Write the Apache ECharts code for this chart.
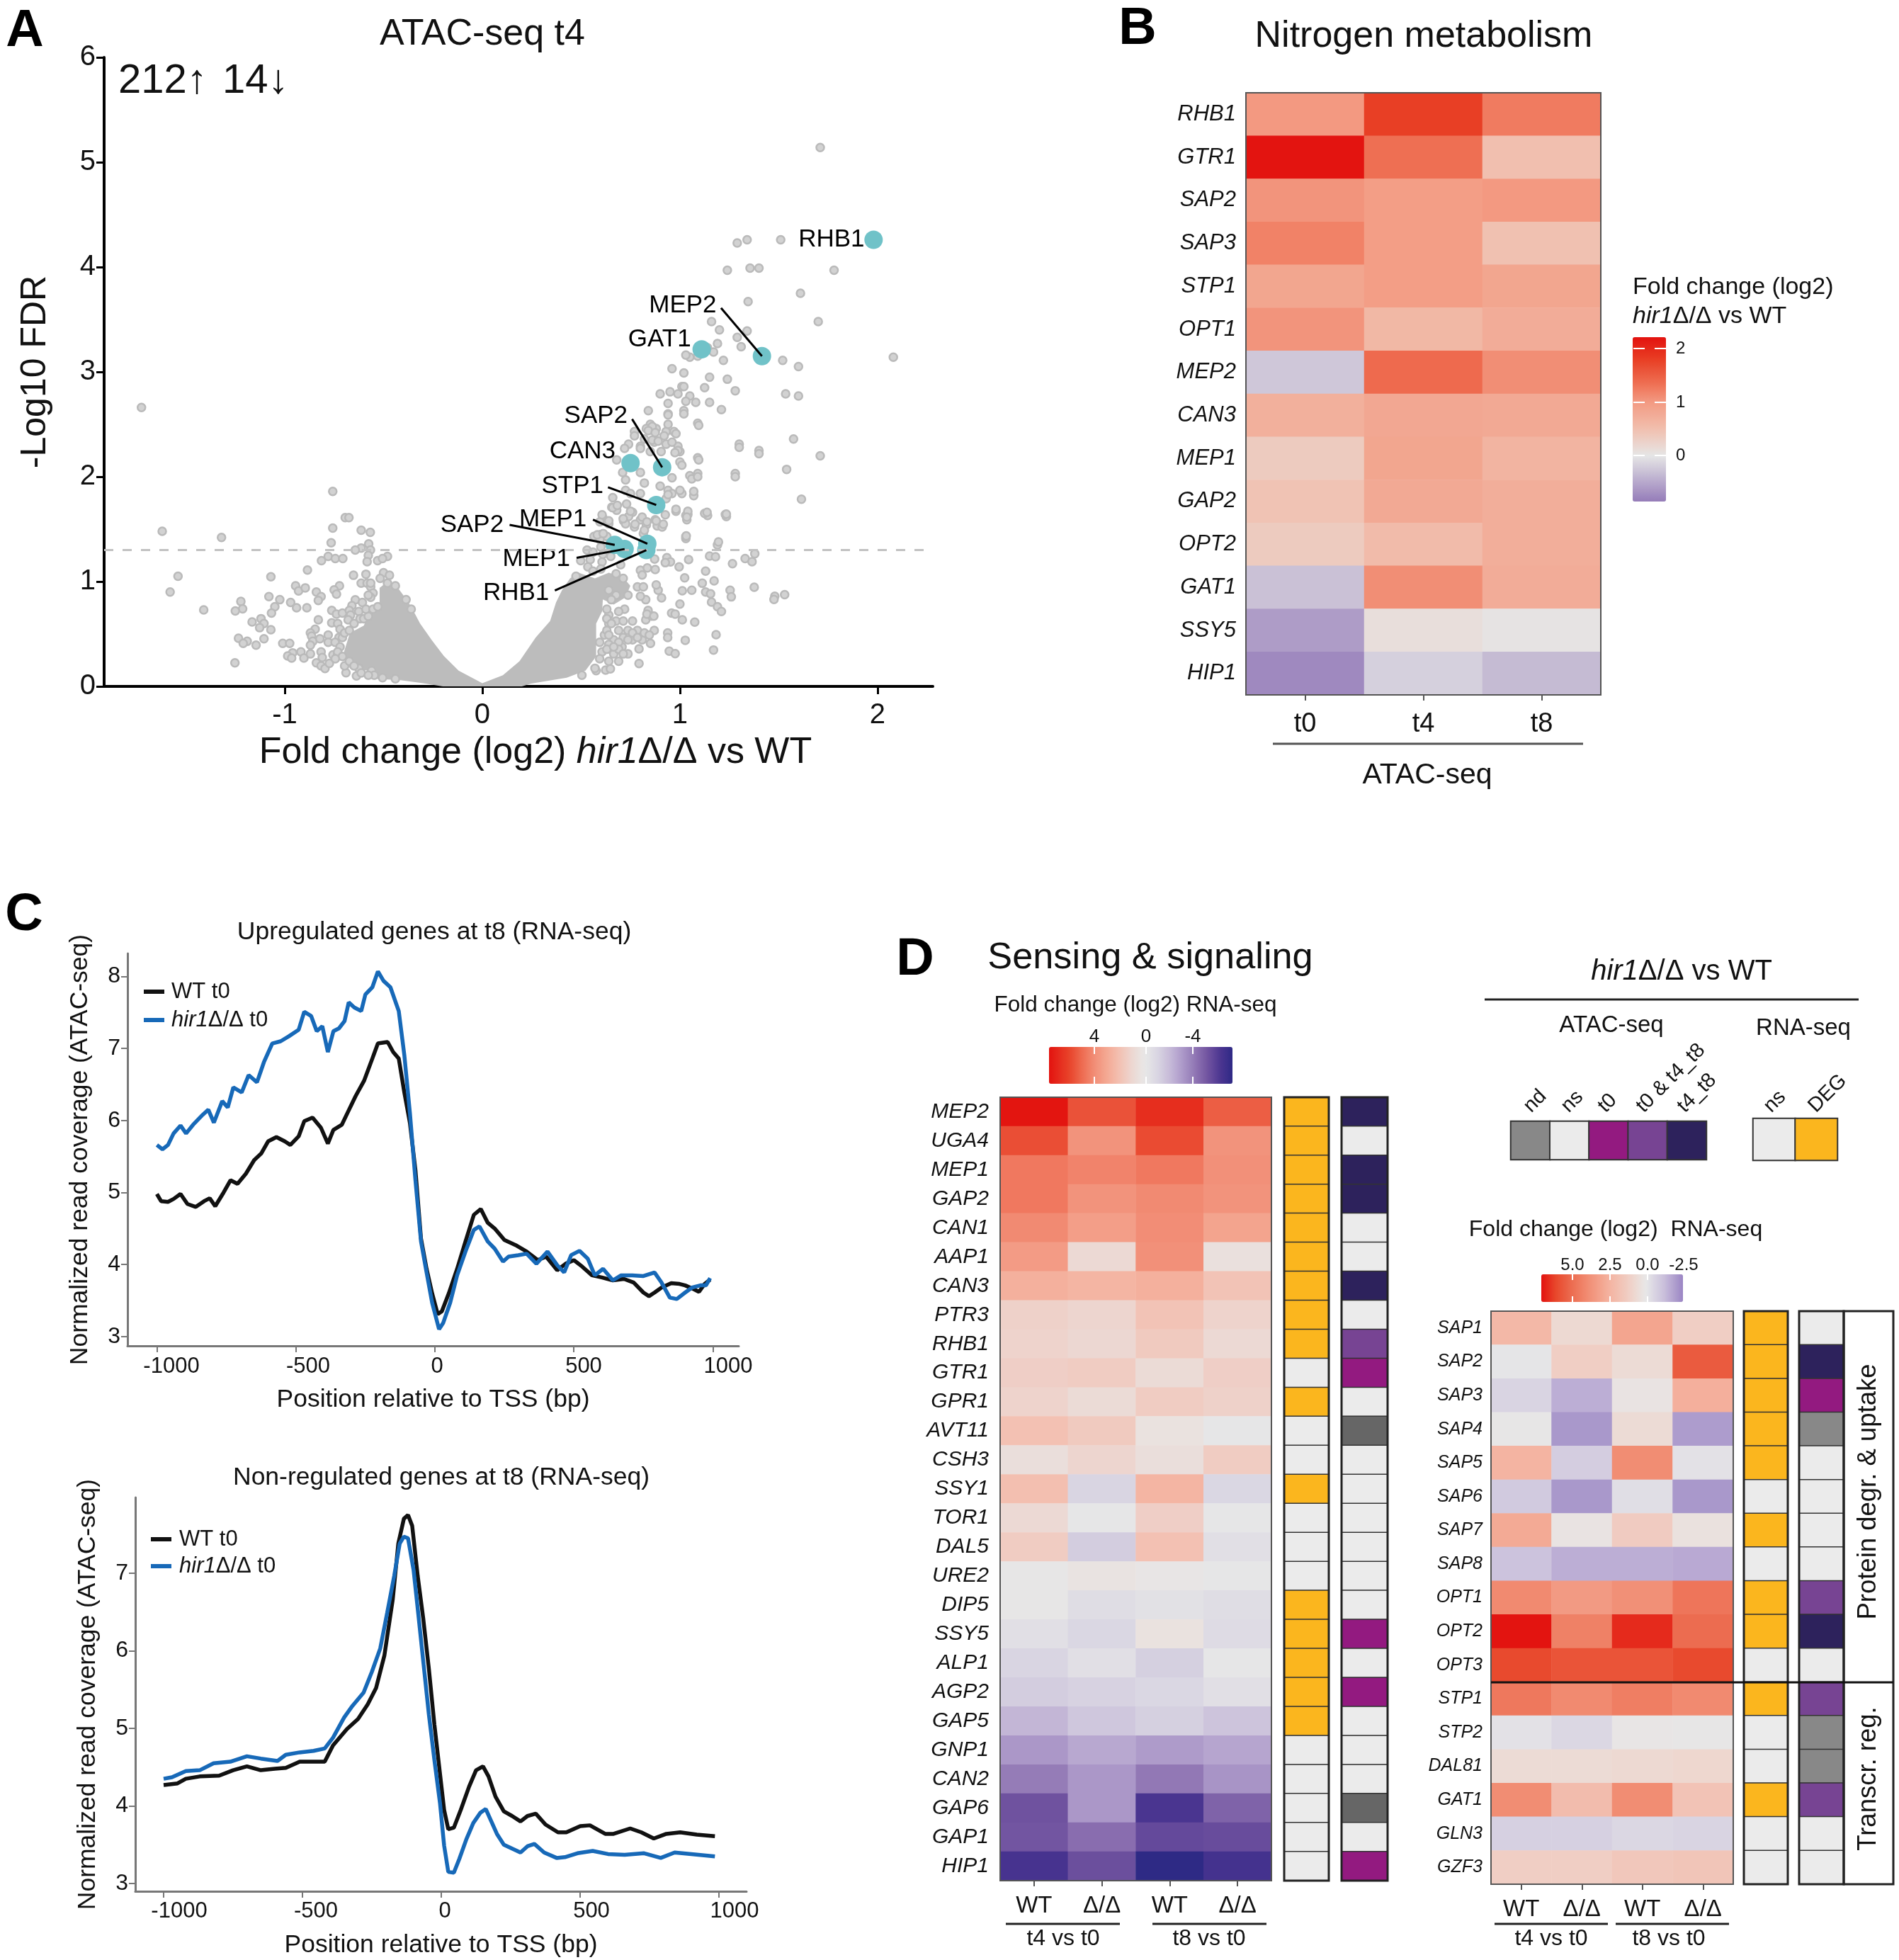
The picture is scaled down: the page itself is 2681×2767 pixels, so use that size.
<!DOCTYPE html>
<html><head><meta charset="utf-8">
<style>html,body{margin:0;padding:0;background:#fff}#c{width:2681px;height:2767px}</style>
<script src="https://cdn.jsdelivr.net/npm/echarts@6/dist/echarts.min.js"></script>
</head><body><div id="c"></div>
<script>
// ---------- Panel A data ----------
const fdrThreshold = 1.3;
const volcanoMassRight = [[0,0.03],[0.104,0.106],[0.188,0.24],[0.27,0.466],[0.343,0.624],[0.373,0.8],[0.403,0.917],[0.444,1.03],[0.487,1.085],[0.57,1.03],[0.64,1.085],[0.713,1.04],[0.749,0.96],[0.725,0.85],[0.665,0.78],[0.61,0.83],[0.606,0.714],[0.576,0.6],[0.576,0.286],[0.522,0.15],[0.427,0.083],[0.247,0.027],[0.2,0],[0,0]];
const volcanoMassLeft = [[0,0.03],[-0.12,0.15],[-0.195,0.29],[-0.255,0.44],[-0.315,0.6],[-0.36,0.76],[-0.4,0.87],[-0.435,0.96],[-0.48,1.0],[-0.52,0.94],[-0.52,0.8],[-0.575,0.69],[-0.6,0.58],[-0.67,0.51],[-0.7,0.33],[-0.67,0.17],[-0.58,0.15],[-0.53,0.07],[-0.42,0.06],[-0.3,0.03],[-0.2,0],[0,0]];
const volcanoUpper = [[1.71,5.14],[1.29,4.23],[1.34,4.26],[1.51,4.26],[1.78,3.97],[1.24,3.97],[1.355,3.99],[1.4,3.99],[1.61,3.75],[1.345,3.67],[1.7,3.48],[1.16,3.48],[1.2,3.4],[1.34,3.39],[1.29,3.33],[2.08,3.14],[1.52,3.11],[1.6,3.05],[1.14,3.23],[1.19,3.27],[1.31,3.24],[1.17,3.19],[1.22,3.11],[1.05,3.14],[1.03,3.16],[1.09,3.15],[0.96,3.03],[1.02,2.99],[1.15,2.95],[1.24,2.93],[1.28,2.82],[1.535,2.79],[1.6,2.77],[0.9,2.79],[0.95,2.81],[1.01,2.86],[1.02,2.86],[0.99,2.79],[1.05,2.77],[1.125,2.85],[1.03,2.72],[1.08,2.71],[1.15,2.71],[0.94,2.7],[1.02,2.63],[1.21,2.64],[0.84,2.63],[1.09,2.51],[0.94,2.6],[0.85,2.5],[0.83,2.46],[0.88,2.46],[0.93,2.43],[0.97,2.43],[0.77,2.43],[0.82,2.36],[0.87,2.33],[0.93,2.31],[0.8,2.29],[0.74,2.31],[0.99,2.29],[1.0,2.24],[0.85,2.24],[1.575,2.36],[1.3,2.31],[1.4,2.25],[1.71,2.2],[1.09,2.18],[1.0,2.14],[1.54,2.07],[1.28,2.03],[1.09,2.03],[1.05,2.01],[0.96,1.99],[0.68,2.16],[0.8,2.04]];
const volcanoMid = [[0.94,2.59],[1.02,2.6],[1.095,2.49],[0.86,2.48],[0.94,2.5],[0.84,2.44],[0.77,2.39],[0.875,2.42],[0.92,2.39],[0.98,2.41],[0.86,2.35],[0.89,2.34],[0.96,2.33],[0.72,2.27],[0.8,2.27],[0.905,2.24],[0.99,2.25],[0.975,2.23],[1.095,2.16],[1.01,2.11],[0.71,2.04],[0.725,1.97],[0.82,1.94],[0.9,1.91],[1.06,1.98],[1.09,2.0],[1.28,2.0],[1.3,2.28],[1.4,2.22],[0.725,1.87],[0.75,1.84],[0.8,1.84],[0.94,1.87],[0.96,1.84],[1.01,1.84],[1.07,1.82],[0.66,1.8],[0.73,1.74],[0.93,1.79],[0.655,1.71],[0.68,1.68],[0.76,1.66],[0.74,1.62],[0.715,1.58],[0.725,1.55],[0.61,1.61],[0.595,1.57],[0.64,1.55],[0.8,1.59],[0.83,1.54],[0.77,1.52],[0.875,1.59],[0.885,1.53],[0.91,1.52],[0.98,1.67],[1.04,1.64],[1.035,1.59],[1.14,1.63],[1.235,1.62],[0.815,1.46],[0.6,1.45],[0.565,1.43],[0.63,1.43],[1.03,1.41],[1.19,1.35],[0.595,1.4],[1.615,1.785],[1.0,1.87],[1.07,1.86],[0.94,1.83],[1.125,1.65],[1.23,1.64],[1.03,1.63],[1.03,1.43]];
const volcanoLower = [[0.64,0.68],[0.677,0.624],[0.72,0.736],[0.713,0.624],[0.76,0.624],[0.785,0.534],[0.737,0.534],[0.69,0.534],[0.64,0.6],[0.618,0.49],[0.665,0.444],[0.713,0.466],[0.76,0.444],[0.809,0.444],[0.851,0.41],[0.87,0.534],[0.64,0.4],[0.707,0.376],[0.737,0.31],[0.665,0.31],[0.606,0.33],[0.69,0.24],[0.624,0.155],[0.648,0.167],[0.504,0.106],[0.576,0.15],[0.793,0.358],[0.793,0.218],[0.946,0.336],[0.976,0.313],[1.17,0.347],[1.027,0.44],[1.183,0.493],[0.938,0.51],[0.938,0.466],[1.075,0.613],[1.012,0.635],[0.958,0.7],[0.976,0.69],[1.0,0.786],[0.827,0.635],[0.857,0.67],[0.839,0.725],[0.827,0.827],[0.8,0.86],[0.907,0.845],[0.89,0.917],[0.88,0.968],[0.785,0.95],[0.815,0.95],[1.012,0.912],[1.06,0.917],[1.13,0.9],[1.155,0.883],[1.16,0.804],[1.19,0.76],[1.21,0.714],[1.254,0.917],[1.26,0.854],[1.376,0.946],[1.113,0.984],[1.173,1.007],[1.024,1.036],[1.13,1.1],[0.8,1.108],[0.875,1.115],[0.809,1.063],[0.835,1.13],[0.996,1.14],[1.266,1.17],[1.33,1.22],[1.365,1.19],[1.15,1.243],[1.18,1.236],[1.379,1.266],[0.934,1.228],[0.952,1.187],[0.926,1.18],[1.044,1.21],[0.872,1.214],[1.195,1.378],[1.032,1.435],[0.546,1.21],[0.498,1.2],[0.534,1.14],[0.606,1.187],[0.474,1.05],[0.677,1.074],[0.713,1.03],[0.582,1.446],[0.612,1.457],[0.606,1.637],[0.64,1.58],[0.66,1.705],[0.683,1.727],[0.713,1.6],[0.75,1.67],[0.809,1.615],[0.833,1.57],[0.773,1.547],[0.916,1.547],[0.88,1.58],[0.98,1.69],[1.04,1.67],[1.035,1.615],[1.137,1.66],[1.235,1.644],[0.926,1.637],[0.82,1.49],[1.48,0.86],[1.53,0.875],[1.476,0.83],[0.53,1.3],[0.56,1.28],[0.61,1.26],[0.65,1.24],[0.6,1.33],[0.56,1.1],[0.6,1.12],[0.7,1.16],[0.64,0.917],[0.677,0.87],[0.653,0.827],[0.737,0.87],[0.63,0.737],[0.69,0.714],[0.63,0.646],[0.653,0.6],[0.63,0.534],[0.64,0.49],[0.69,0.42],[0.737,0.444],[0.82,0.51],[0.845,0.49],[0.594,0.42],[0.63,0.354],[0.69,0.354],[0.713,0.31],[0.594,0.264],[0.64,0.24],[0.57,0.173],[0.665,0.376],[0.76,0.51],[0.785,0.466],[0.833,0.69],[0.868,0.67]];
const volcanoLeft = [[-1.725,2.66],[-1.62,1.48],[-1.54,1.05],[-1.58,0.9],[-0.757,1.86],[-0.694,1.61],[-0.675,1.61],[-0.757,1.51],[-0.613,1.49],[-0.567,1.47],[-0.765,1.37],[-1.32,1.42],[-0.575,1.36],[-0.613,1.32],[-0.643,1.3],[-0.566,1.3],[-0.78,1.24],[-0.814,1.2],[-0.744,1.22],[-0.706,1.22],[-0.577,1.25],[-0.583,1.19],[-0.53,1.2],[-0.48,1.24],[-0.505,1.22],[-0.885,1.11],[-0.652,1.06],[-0.589,1.07],[-0.5,1.085],[-0.47,1.06],[-1.07,1.045],[-0.613,0.985],[-0.583,0.985],[-0.565,0.95],[-0.553,0.89],[-0.565,0.85],[-0.945,0.96],[-0.93,0.91],[-0.896,0.94],[-0.84,0.9],[-0.723,0.96],[-0.75,0.92],[-0.738,0.88],[-0.816,0.856],[-0.83,0.82],[-1.08,0.856],[-1.025,0.827],[-1.222,0.81],[-1.213,0.74],[-1.25,0.72],[-1.41,0.73],[-0.97,0.8],[-1.05,0.76],[-1.067,0.7],[-0.94,0.75],[-0.888,0.75],[-0.643,0.826],[-0.607,0.8],[-0.66,0.77],[-0.762,0.725],[-0.738,0.69],[-0.708,0.7],[-0.673,0.725],[-0.625,0.714],[-0.667,0.68],[-0.679,0.635],[-0.619,0.646],[-1.12,0.646],[-1.165,0.615],[-1.105,0.6],[-1.127,0.56],[-1.07,0.54],[-0.83,0.635],[-0.762,0.606],[-0.732,0.6],[-0.72,0.545],[-0.846,0.545],[-0.87,0.51],[-0.864,0.48],[-0.78,0.49],[-1.234,0.46],[-1.19,0.43],[-1.21,0.41],[-1.105,0.455],[-1.145,0.394],[-1.01,0.41],[-0.975,0.41],[-0.858,0.43],[-0.87,0.394],[-0.822,0.455],[-0.726,0.466],[-0.78,0.42],[-0.745,0.42],[-0.918,0.33],[-0.96,0.32],[-0.985,0.29],[-0.965,0.27],[-0.903,0.27],[-0.87,0.31],[-0.816,0.33],[-0.81,0.275],[-1.252,0.225],[-0.756,0.3],[-0.732,0.31],[-0.84,0.225],[-0.816,0.196],[-0.796,0.17],[-0.774,0.22],[-0.69,0.13],[-0.637,0.1],[-0.697,0.196],[-0.625,0.173],[-0.56,0.15],[-0.505,0.083],[-0.44,0.072],[-0.36,0.737],[-0.44,0.96],[-0.386,0.827],[-0.48,0.985],[-0.547,0.106],[-0.708,0.466],[-0.697,0.51],[-0.673,0.534],[-0.72,0.376],[-0.732,0.33],[-0.708,0.286],[-0.744,0.264],[-0.673,0.24],[-0.649,0.196],[-0.613,0.128],[-0.577,0.106],[-0.6,0.646],[-0.577,0.669],[-0.589,0.736],[-0.649,0.6],[-0.553,0.736],[-0.529,0.76],[-0.565,0.985],[-0.517,1.03],[-0.577,0.87]];
const volcanoGeneNames = ['RHB1','MEP2','GAT1','SAP2','CAN3','STP1','MEP1','SAP2','MEP1','RHB1'];
const volcanoGenePoints = [[1.98,4.26],[1.415,3.15],[1.11,3.215],[0.91,2.09],[0.75,2.13],[0.88,1.73],[0.835,1.36],[0.67,1.35],[0.72,1.31],[0.83,1.30]];
const volcanoLabelAnchors = [[1.936,4.26],[1.187,3.63],[1.058,3.31],[0.737,2.58],[0.676,2.24],[0.615,1.91],[0.53,1.59],[0.11,1.54],[0.446,1.216],[0.34,0.89]];
const volcanoLeaderStarts = [null,[1.208,3.61],null,[0.758,2.55],null,[0.636,1.9],[0.56,1.59],[0.138,1.54],[0.477,1.226],[0.367,0.915]];
const volcanoXTicks = [-1,0,1,2];
const volcanoYTicks = [0,1,2,3,4,5,6];

// ---------- Panel B data ----------
const nitroGenes = ['RHB1','GTR1','SAP2','SAP3','STP1','OPT1','MEP2','CAN3','MEP1','GAP2','OPT2','GAT1','SSY5','HIP1'];
const nitroTimes = ['t0','t4','t8'];
const nitroT0 = [1.0,2.2,1.05,1.2,0.85,1.05,-0.25,0.7,0.35,0.45,0.35,-0.3,-0.6,-0.75];
const nitroT4 = [1.8,1.35,0.95,0.95,0.95,0.6,1.4,0.82,0.85,0.8,0.55,1.1,0.1,-0.18];
const nitroT8 = [1.25,0.5,1.0,0.48,0.85,0.75,1.1,0.8,0.65,0.72,0.72,0.75,0.03,-0.35];

// ---------- Panel C data ----------
const upWT = [[-1000,4.98],[-985,4.88],[-960,4.87],[-940,4.91],[-915,4.98],[-890,4.84],[-860,4.8],[-830,4.88],[-810,4.92],[-790,4.81],[-760,5.0],[-735,5.17],[-710,5.12],[-680,5.26],[-650,5.45],[-625,5.54],[-600,5.71],[-570,5.77],[-540,5.71],[-520,5.66],[-490,5.78],[-470,5.99],[-440,6.04],[-410,5.9],[-385,5.68],[-365,5.87],[-335,5.94],[-315,6.1],[-285,6.34],[-255,6.55],[-225,6.86],[-205,7.07],[-170,7.09],[-150,6.95],[-130,6.86],[-110,6.39],[-90,5.97],[-70,5.31],[-50,4.36],[-30,3.94],[-10,3.6],[10,3.31],[25,3.35],[50,3.6],[80,3.94],[110,4.32],[140,4.69],[165,4.77],[190,4.58],[215,4.5],[250,4.34],[290,4.27],[330,4.18],[370,4.06],[400,4.11],[440,3.92],[470,4.01],[500,4.06],[530,3.97],[565,3.85],[600,3.82],[640,3.78],[680,3.8],[715,3.75],[750,3.61],[770,3.56],[790,3.61],[815,3.68],[850,3.74],[880,3.73],[900,3.71],[930,3.66],[950,3.62],[970,3.73],[990,3.79]];
const upHir1 = [[-1000,5.66],[-980,5.6],[-960,5.66],[-940,5.82],[-915,5.93],[-895,5.82],[-870,5.94],[-835,6.08],[-815,6.15],[-795,5.97],[-765,6.27],[-745,6.18],[-725,6.46],[-695,6.39],[-670,6.63],[-640,6.53],[-615,6.81],[-585,7.07],[-555,7.1],[-525,7.17],[-490,7.26],[-470,7.51],[-445,7.45],[-425,7.24],[-405,7.31],[-385,6.95],[-365,7.24],[-345,7.28],[-325,7.38],[-310,7.64],[-290,7.57],[-265,7.52],[-250,7.75],[-225,7.85],[-205,8.07],[-185,7.94],[-160,7.85],[-130,7.52],[-110,6.91],[-90,6.11],[-70,5.17],[-50,4.32],[-30,3.89],[-10,3.47],[15,3.1],[30,3.19],[55,3.47],[80,3.85],[110,4.18],[140,4.48],[160,4.53],[190,4.32],[215,4.22],[245,4.04],[265,4.11],[300,4.13],[330,4.15],[365,4.01],[405,4.18],[440,3.99],[465,3.89],[490,4.13],[520,4.19],[550,4.08],[575,3.85],[605,3.94],[640,3.78],[670,3.85],[710,3.85],[750,3.84],[790,3.89],[815,3.75],[845,3.54],[870,3.52],[900,3.61],[925,3.68],[955,3.71],[975,3.71],[990,3.81]];
const nonWT = [[-1000,4.27],[-950,4.29],[-920,4.35],[-870,4.38],[-800,4.39],[-750,4.46],[-700,4.51],[-650,4.46],[-600,4.48],[-560,4.49],[-510,4.57],[-460,4.57],[-420,4.57],[-390,4.78],[-340,4.99],[-300,5.12],[-265,5.31],[-235,5.52],[-205,5.94],[-175,6.66],[-155,7.38],[-135,7.7],[-120,7.75],[-105,7.61],[-85,6.96],[-65,6.41],[-45,5.77],[-25,5.05],[-5,4.42],[10,3.95],[25,3.7],[45,3.72],[70,3.95],[100,4.25],[125,4.46],[150,4.51],[170,4.38],[195,4.12],[225,3.93],[255,3.87],[285,3.8],[310,3.87],[340,3.9],[375,3.76],[420,3.66],[450,3.66],[500,3.74],[535,3.75],[590,3.64],[620,3.64],[680,3.71],[720,3.66],[765,3.58],[810,3.64],[860,3.66],[920,3.63],[985,3.61]];
const nonHir1 = [[-1000,4.35],[-970,4.37],[-920,4.45],[-870,4.46],[-820,4.55],[-760,4.57],[-700,4.64],[-650,4.61],[-590,4.58],[-560,4.66],[-510,4.69],[-460,4.71],[-420,4.74],[-390,4.88],[-350,5.14],[-320,5.29],[-280,5.46],[-250,5.73],[-220,6.03],[-195,6.49],[-170,6.96],[-150,7.38],[-135,7.47],[-120,7.45],[-100,7.04],[-85,6.54],[-65,5.86],[-45,5.18],[-25,4.59],[-5,4.04],[10,3.49],[25,3.15],[45,3.14],[65,3.32],[90,3.57],[115,3.78],[140,3.91],[160,3.96],[180,3.8],[200,3.64],[225,3.5],[255,3.45],[285,3.4],[310,3.48],[335,3.51],[370,3.4],[415,3.33],[445,3.34],[490,3.39],[545,3.42],[600,3.38],[660,3.37],[730,3.39],[790,3.33],[840,3.4],[900,3.38],[985,3.35]];
const tssTicks = [-1000,-500,0,500,1000];
const upYTicks = [3,4,5,6,7,8];
const nonYTicks = [3,4,5,6,7];

// ---------- Panel D data ----------
const contrastCols = ['WT','Δ/Δ','WT ','Δ/Δ '];
const senseGenes = ['MEP2','UGA4','MEP1','GAP2','CAN1','AAP1','CAN3','PTR3','RHB1','GTR1','GPR1','AVT11','CSH3','SSY1','TOR1','DAL5','URE2','DIP5','SSY5','ALP1','AGP2','GAP5','GNP1','CAN2','GAP6','GAP1','HIP1'];
const senseT4WT = [7.5,5.7,4.6,4.6,4.1,3.5,2.7,1.3,1.2,1.4,1.2,2.0,0.6,2.1,0.9,1.5,0,0,-0.5,-1,-1.3,-2.1,-3,-3.8,-5,-4.9,-6.1];
const senseT4Mut = [5.6,3.8,4.3,3.8,3.4,0.9,2.5,1.1,1.0,1.5,0.8,1.6,1.1,-1.0,-0.1,-1.3,0.3,-0.6,-0.9,-0.5,-1.1,-1.5,-2.5,-3,-3,-4.2,-5.1];
const senseT8WT = [6.7,5.8,4.6,4.1,4.0,3.9,2.7,1.9,1.6,0.8,1.5,0.4,0.6,2.5,1.4,2.0,0.1,-0.4,0.4,-1.2,-0.9,-1.2,-2.9,-3.9,-6,-5.3,-6.9];
const senseT8Mut = [5.3,3.8,3.9,3.8,3.2,0.5,1.9,1.2,0.9,1.4,1.3,-0.1,1.5,-0.9,-0.1,-0.5,-0.1,-0.6,-0.7,-0.1,-0.5,-1.6,-2.6,-3.1,-4.5,-5.2,-6.2];
const rnaLevels = ['ns','DEG'];
const atacLevels = ['nd','ns','t0','t0 & t4_t8','t4_t8'];
const NS=1, ND=0, T0=2, T0T4=3, T4T8=4, ND_DARK=5;
const senseDEG = [1,1,1,1,1,1,1,1,1,0,1,0,0,1,0,0,0,1,1,1,1,1,0,0,0,0,0];
const senseATAC = [T4T8,NS,T4T8,T4T8,NS,NS,T4T8,NS,T0T4,T0,NS,ND_DARK,NS,NS,NS,NS,NS,NS,T0,NS,T0,NS,NS,NS,ND_DARK,NS,T0];
const protGenes = ['SAP1','SAP2','SAP3','SAP4','SAP5','SAP6','SAP7','SAP8','OPT1','OPT2','OPT3','STP1','STP2','DAL81','GAT1','GLN3','GZF3'];
const protT4WT = [2.2,-0.1,-0.6,0,2.4,-0.9,2.8,-1.1,4,7,6,4.6,-0.2,0.6,3.9,-0.7,1.2];
const protT4Mut = [0.7,1.2,-1.6,-2.1,-0.8,-2.1,0.2,-1.6,3.4,4.3,5.7,4,-0.5,0.6,2,-0.7,1.2];
const protT8WT = [3,0.6,0.2,0.6,3.9,-0.3,1.3,-1.6,3.8,6.6,5.7,4.4,0.05,0.7,3.9,-0.5,1.5];
const protT8Mut = [1.2,5.5,2.6,-2.0,-0.2,-2.1,0.3,-1.7,4.7,5.0,6,4,0,0.8,1.7,-0.6,1.6];
const protDEG = [1,1,1,1,1,0,1,0,1,1,0,1,0,0,1,0,0];
const protATAC = [NS,T4T8,T0,ND,NS,NS,NS,NS,T0T4,T4T8,NS,T0T4,ND,ND,T0T4,NS,NS];

// ---------- style ----------
const FONT = '"Liberation Sans", Arial, sans-serif';
const INK = '#111111';
const rampB = [[-0.86,'#957cb9'],[0,'#e6e6e6'],[0.5,'#f1bfae'],[1,'#f39a82'],[1.35,'#ee6f53'],[1.8,'#e83f24'],[2.22,'#e3120f']];
const rampD = [[-6.9,'#2e2a85'],[-6,'#4a3490'],[-5,'#6f519f'],[-4,'#8f75b3'],[-3,'#ab97c8'],[-2,'#c5b9d8'],[-1,'#d9d5e2'],[0,'#e8e8e8'],[1,'#ecd8d2'],[2,'#f3c1b3'],[3,'#f4a994'],[4,'#f28e76'],[5,'#ee6a4f'],[6,'#e8432a'],[7.58,'#e3120f']];
const rampP = [[-2.5,'#9a85c4'],[-1.25,'#c9bedb'],[0,'#e8e8e8'],[1,'#efd2c9'],[2.5,'#f4b29f'],[4,'#f18a70'],[5,'#ec6c50'],[6,'#e84a2e'],[7.04,'#e3120f']];
const atacColors = ['#888888','#ebebeb','#931a80','#774493','#2d225c','#666666'];
const rnaColors = ['#ebebeb','#fbb61e'];

function hexRgb(h){return [1,3,5].map(i=>parseInt(h.substr(i,2),16));}
function buildRamp(st,n){
  const lo=st[0][0],hi=st[st.length-1][0],out=[];
  for(let k=0;k<n;k++){
    const v=lo+(hi-lo)*k/(n-1);
    let i=0; while(i<st.length-2&&v>st[i+1][0])i++;
    const f=(v-st[i][0])/(st[i+1][0]-st[i][0]),a=hexRgb(st[i][1]),b=hexRgb(st[i+1][1]);
    out.push('rgb('+a.map((c,j)=>Math.round(c+(b[j]-c)*f)).join(',')+')');
  }
  return out;
}
const grid=[],xAxis=[],yAxis=[],series=[],visualMap=[],graphic=[];
function box(l,t,r,b){return {left:l,top:t,width:r-l,height:b-t};}
function T(x,y,text,size,o){o=o||{};
  const s={text,fill:o.fill||INK,font:(o.weight||'normal')+' '+size+'px '+FONT,textAlign:o.align||'center',textVerticalAlign:'middle'};
  if(o.rich){s.rich={};for(const k in o.rich)s.rich[k]=Object.assign({fontFamily:FONT,fontSize:size,fill:s.fill},o.rich[k]);}
  graphic.push({type:'text',x,y,rotation:o.rot||0,z:60,silent:true,style:s});
}
function L(x1,y1,x2,y2,c,w){graphic.push({type:'line',z:60,silent:true,shape:{x1,y1,x2,y2},style:{stroke:c,lineWidth:w}});}
function R(l,t,r,b,c,w){graphic.push({type:'rect',z:55,silent:true,shape:{x:l,y:t,width:r-l,height:b-t},style:{fill:'none',stroke:c,lineWidth:w}});}

function heat(b,rows,cols,columns,o){
  const gi=grid.length; grid.push(box(b[0],b[1],b[2],b[3]));
  xAxis.push({gridIndex:gi,type:'category',data:cols,show:!o.noX,position:o.xTop?'top':'bottom',
    axisLine:{lineStyle:{color:'#555',width:2}},
    axisTick:{show:!o.xTop,alignWithLabel:true,length:8,lineStyle:{color:'#555',width:2}},
    axisLabel:{show:!o.xTop,interval:0,fontFamily:FONT,fontSize:o.xSize||30,color:INK,margin:o.xMargin||14,
      formatter:v=>v.trim()}});
  yAxis.push({gridIndex:gi,type:'category',data:rows,inverse:true,show:!o.noY,
    axisLine:{lineStyle:{color:'#555',width:2}},
    axisTick:{alignWithLabel:true,length:7,lineStyle:{color:'#666',width:2}},
    axisLabel:{interval:0,fontFamily:FONT,fontStyle:'italic',fontSize:o.ySize||30,color:INK,margin:o.yMargin||14}});
  const data=[];
  columns.forEach((arr,c)=>arr.forEach((v,r)=>data.push([c,r,v])));
  series.push({type:'heatmap',xAxisIndex:gi,yAxisIndex:gi,data,silent:true,animation:false,
    progressive:0,itemStyle:o.cellBorder?{borderColor:o.cellBorder,borderWidth:o.cellBorderWidth||1.5}:{},emphasis:{disabled:true}});
  return series.length-1;
}
function contVM(si,st,o){
  visualMap.push(Object.assign({type:'continuous',seriesIndex:si,dimension:2,min:st[0][0],max:st[st.length-1][0],
    calculable:false,hoverLink:false,padding:0,text:null,showLabel:false,inRange:{color:buildRamp(st,48)}},o));
}
function catVM(si,colors){
  visualMap.push({type:'piecewise',show:false,seriesIndex:si,dimension:2,
    pieces:colors.map((c,i)=>({value:i,color:c}))});
}

// ---------- Panel A ----------
const gA=grid.length; grid.push(box(147,81,1317,969));
const axA={lineStyle:{color:'#000',width:4}}, tickA={show:true,length:11,lineStyle:{color:'#000',width:3}};
xAxis.push({gridIndex:gA,type:'value',min:-1.914,max:2.28,splitLine:{show:false},axisLine:Object.assign({onZero:false},axA),
  axisTick:Object.assign({customValues:volcanoXTicks},tickA),
  axisLabel:{customValues:volcanoXTicks,fontFamily:FONT,fontSize:40,color:INK,margin:21},
  name:'Fold change (log2) {i|hir1}Δ/Δ vs WT',nameLocation:'middle',nameGap:68,
  nameTextStyle:{fontFamily:FONT,fontSize:52,color:INK,padding:[0,0,0,48],rich:{i:{fontFamily:FONT,fontSize:52,fontStyle:'italic',color:INK}}}});
yAxis.push({gridIndex:gA,type:'value',min:0,max:6,splitLine:{show:false},axisLine:Object.assign({onZero:false},axA),
  axisTick:Object.assign({customValues:volcanoYTicks},tickA),
  axisLabel:{customValues:volcanoYTicks,fontFamily:FONT,fontSize:40,color:INK,margin:12},
  name:'-Log10 FDR',nameLocation:'middle',nameGap:72,nameTextStyle:{fontFamily:FONT,fontSize:50,color:INK}});
function mass(pts){
  series.push({type:'custom',xAxisIndex:gA,yAxisIndex:gA,data:pts,silent:true,animation:false,
    encode:{x:0,y:1},
    renderItem:(p,api)=>p.dataIndex===0?{type:'polygon',shape:{points:pts.map(q=>api.coord(q))},style:{fill:'#bcbcbc'}}:null});
}
mass(volcanoMassRight); mass(volcanoMassLeft);
series.push({type:'scatter',xAxisIndex:gA,yAxisIndex:gA,silent:true,animation:false,symbolSize:11,
  data:volcanoUpper.concat(volcanoMid,volcanoLower,volcanoLeft),
  itemStyle:{color:'#d2d2d2',borderColor:'#bababa',borderWidth:2.5,opacity:1}});
series.push({type:'line',xAxisIndex:gA,yAxisIndex:gA,silent:true,animation:false,showSymbol:false,
  data:[[-1.914,fdrThreshold],[2.28,fdrThreshold]],lineStyle:{color:'#c2c2c2',width:3,type:[13,13]}});
series.push({type:'scatter',xAxisIndex:gA,yAxisIndex:gA,silent:true,animation:false,symbolSize:26,
  data:volcanoGenePoints,itemStyle:{color:'#70c2c8',opacity:1}});
volcanoGenePoints.forEach((p,i)=>{ if(volcanoLeaderStarts[i])
  series.push({type:'line',xAxisIndex:gA,yAxisIndex:gA,silent:true,animation:false,showSymbol:false,
    data:[volcanoLeaderStarts[i],p],lineStyle:{color:'#000',width:3}});});
series.push({type:'scatter',xAxisIndex:gA,yAxisIndex:gA,silent:true,animation:false,symbolSize:1,
  itemStyle:{color:'transparent',opacity:1},
  data:volcanoLabelAnchors.map((a,i)=>({value:a,name:volcanoGeneNames[i]})),
  label:{show:true,position:'left',distance:0,formatter:'{b}',fontFamily:FONT,fontSize:35,color:'#000'}});
T(35,45,'A',74,{weight:'bold',fill:'#000'});
T(681,49,'ATAC-seq t4',52);
T(167,115,'212↑',58,{align:'left'});
T(314,115,'14↓',58,{align:'left'});

// ---------- Panel B ----------
const siB=heat([1759,131,2260,981],nitroGenes,nitroTimes,[nitroT0,nitroT4,nitroT8],{ySize:31,yMargin:14,xSize:38,xMargin:23});
contVM(siB,rampB,{orient:'vertical',left:2305,top:476,itemWidth:47,itemHeight:232});
R(1759,131,2260,981,'#555',2);
T(1606,42,'B',74,{weight:'bold',fill:'#000'});
T(2010,52,'Nitrogen metabolism',52);
L(1797,1050,2235,1050,'#555',3);
T(2015,1095,'ATAC-seq',41);
T(2305,406,'Fold change (log2)',34,{align:'left'});
T(2305,447,'{i|hir1}Δ/Δ vs WT',34,{align:'left',rich:{i:{fontStyle:'italic'}}});
[['2',492],['1',568],['0',643]].forEach(a=>{L(2306,a[1],2322,a[1],'#fff',2);L(2336,a[1],2352,a[1],'#fff',2);T(2366,a[1],a[0],24,{align:'left'});});

// ---------- Panel C ----------
function tss(b,xmin,xmax,ymin,ymax,yTicks,wt,mu,labelXs,labelY){
  const g=grid.length; grid.push(box(b[0],b[1],b[2],b[3]));
  const ax={onZero:false,lineStyle:{color:'#777',width:3}},tk={length:9,lineStyle:{color:'#777',width:2}};
  xAxis.push({gridIndex:g,type:'value',min:xmin,max:xmax,splitLine:{show:false},axisLine:ax,
    axisTick:Object.assign({customValues:tssTicks},tk),
    axisLabel:{show:false},
    name:'Position relative to TSS (bp)',nameLocation:'middle',nameGap:58,nameTextStyle:{fontFamily:FONT,fontSize:35.5,color:INK}});
  yAxis.push({gridIndex:g,type:'value',min:ymin,max:ymax,splitLine:{show:false},axisLine:ax,
    axisTick:Object.assign({customValues:yTicks},tk),
    axisLabel:{customValues:yTicks,fontFamily:FONT,fontSize:32,color:INK,margin:10},
    name:'Normalized read coverage (ATAC-seq)',nameLocation:'middle',nameGap:49,nameTextStyle:{fontFamily:FONT,fontSize:35.5,color:INK}});
  series.push({type:'line',xAxisIndex:g,yAxisIndex:g,data:wt,showSymbol:false,silent:true,animation:false,lineStyle:{color:'#111',width:5.5}});
  series.push({type:'line',xAxisIndex:g,yAxisIndex:g,data:mu,showSymbol:false,silent:true,animation:false,lineStyle:{color:'#1769b8',width:5.5}});
  tssTicks.forEach((t,i)=>T(labelXs[i],labelY,String(t),31));
}
tss([180,1346,1043,1900],-1105.7,1093,2.87,8.32,upYTicks,upWT,upHir1,[242,435,617,824,1028],1929);
tss([191,2114,1054,2670],-1102,1099,2.9,7.975,nonYTicks,nonWT,nonHir1,[253,446,628,835,1037],2698);
T(34,1293,'C',74,{weight:'bold',fill:'#000'});
T(613,1316,'Upregulated genes at t8 (RNA-seq)',35.5);
T(623,2086,'Non-regulated genes at t8 (RNA-seq)',35.5);
function lineLegend(x1,x2,tx,y1,y2){
  L(x1,y1,x2,y1,'#111',6);L(x1,y2,x2,y2,'#1769b8',6);
  T(tx,y1,'WT t0',31,{align:'left'});
  T(tx,y2,'{i|hir1}Δ/Δ t0',31,{align:'left',rich:{i:{fontStyle:'italic'}}});
}
lineLegend(203,232,242,1400,1440);
lineLegend(213,242,253,2173,2211);

// ---------- Panel D left ----------
const siD=heat([1412,1549,1795,2655],senseGenes,contrastCols,[senseT4WT,senseT4Mut,senseT8WT,senseT8Mut],{ySize:30,yMargin:16,xSize:33,xMargin:19});
contVM(siD,rampD,{orient:'horizontal',inverse:true,left:1481,top:1478,itemWidth:52,itemHeight:259});
const siD1=heat([1813,1549,1876,2655],senseGenes,['DEG'],[senseDEG],{noX:true,noY:true,cellBorder:'#333'});
catVM(siD1,rnaColors);
const siD2=heat([1894,1549,1959,2655],senseGenes,['ATAC'],[senseATAC],{noX:true,noY:true,cellBorder:'#333'});
catVM(siD2,atacColors);
R(1412,1549,1795,2655,'#555',2);R(1813,1549,1876,2655,'#222',3);R(1894,1549,1959,2655,'#222',3);
T(1292,1356,'D',74,{weight:'bold',fill:'#000'});
T(1624,1353,'Sensing & signaling',52.3);
T(1603,1419,'Fold change (log2) RNA-seq',31.5);
[['4',1545],['0',1618],['-4',1684]].forEach(a=>{L(a[1],1478,a[1],1488,'#fff',2);L(a[1],1520,a[1],1530,'#fff',2);T(a[1],1464,a[0],26);});
L(1420,2716,1581,2716,'#222',3);L(1627,2716,1788,2716,'#222',3);
T(1501,2737,'t4 vs t0',32);T(1707,2737,'t8 vs t0',32);

// ---------- Panel D right ----------
const siP=heat([2105,1851,2447,2660],protGenes,contrastCols,[protT4WT,protT4Mut,protT8WT,protT8Mut],{ySize:25,yMargin:12,xSize:33,xMargin:19});
contVM(siP,rampP,{orient:'horizontal',inverse:true,left:2176,top:1799,itemWidth:39,itemHeight:200});
const siP1=heat([2462,1851,2524,2660],protGenes,['DEG'],[protDEG],{noX:true,noY:true,cellBorder:'#333'});
catVM(siP1,rnaColors);
const siP2=heat([2540,1851,2603,2660],protGenes,['ATAC'],[protATAC],{noX:true,noY:true,cellBorder:'#333'});
catVM(siP2,atacColors);
R(2105,1851,2447,2660,'#555',2);R(2462,1851,2524,2660,'#222',3);R(2540,1851,2603,2660,'#222',3);
R(2603,1851,2673,2660,'#222',3);
L(2105,2375,2673,2375,'#111',3);
T(2638,2106,'Protein degr. & uptake',36.5,{rot:Math.PI/2});
T(2638,2511,'Transcr. reg.',36.5,{rot:Math.PI/2});
T(2374,1372,'{i|hir1}Δ/Δ vs WT',40,{rich:{i:{fontStyle:'italic'}}});
L(2096,1411,2624,1411,'#222',3);
T(2275,1448,'ATAC-seq',33);T(2546,1452,'RNA-seq',33);
T(2281,1736,'Fold change (log2)  RNA-seq',32);
[['5.0',2220],['2.5',2273],['0.0',2326],['-2.5',2377]].forEach(a=>{if(a[0]!=='-2.5'){L(a[1],1799,a[1],1807,'#fff',2);L(a[1],1830,a[1],1838,'#fff',2);}T(a[1],1786,a[0],24);});
L(2110,2716,2270,2716,'#222',3);L(2281,2716,2441,2716,'#222',3);
T(2190,2737,'t4 vs t0',32);T(2356,2737,'t8 vs t0',32);

// legend swatches
const siLA=heat([2133,1583,2409,1637],['k'],atacLevels,atacLevels.map((_,i)=>[i]),{noY:true,xTop:true,cellBorder:'#333',cellBorderWidth:2});
catVM(siLA,atacColors);
const siLR=heat([2475,1579,2594,1638],['k'],rnaLevels,rnaLevels.map((_,i)=>[i]),{noY:true,xTop:true,cellBorder:'#333',cellBorderWidth:2});
catVM(siLR,rnaColors);
function slanted(levels,xs,y){levels.forEach((t,i)=>T(xs[i],y,t,29,{align:'left',rot:Math.PI/4}));}
slanted(atacLevels,[2156,2209,2261,2315,2373],1566);
slanted(rnaLevels,[2495,2558],1566);

const chart=echarts.init(document.getElementById('c'),null,{renderer:'canvas'});
chart.setOption({animation:false,backgroundColor:'#fff',textStyle:{fontFamily:FONT},grid,xAxis,yAxis,series,visualMap,graphic});
</script></body></html>
